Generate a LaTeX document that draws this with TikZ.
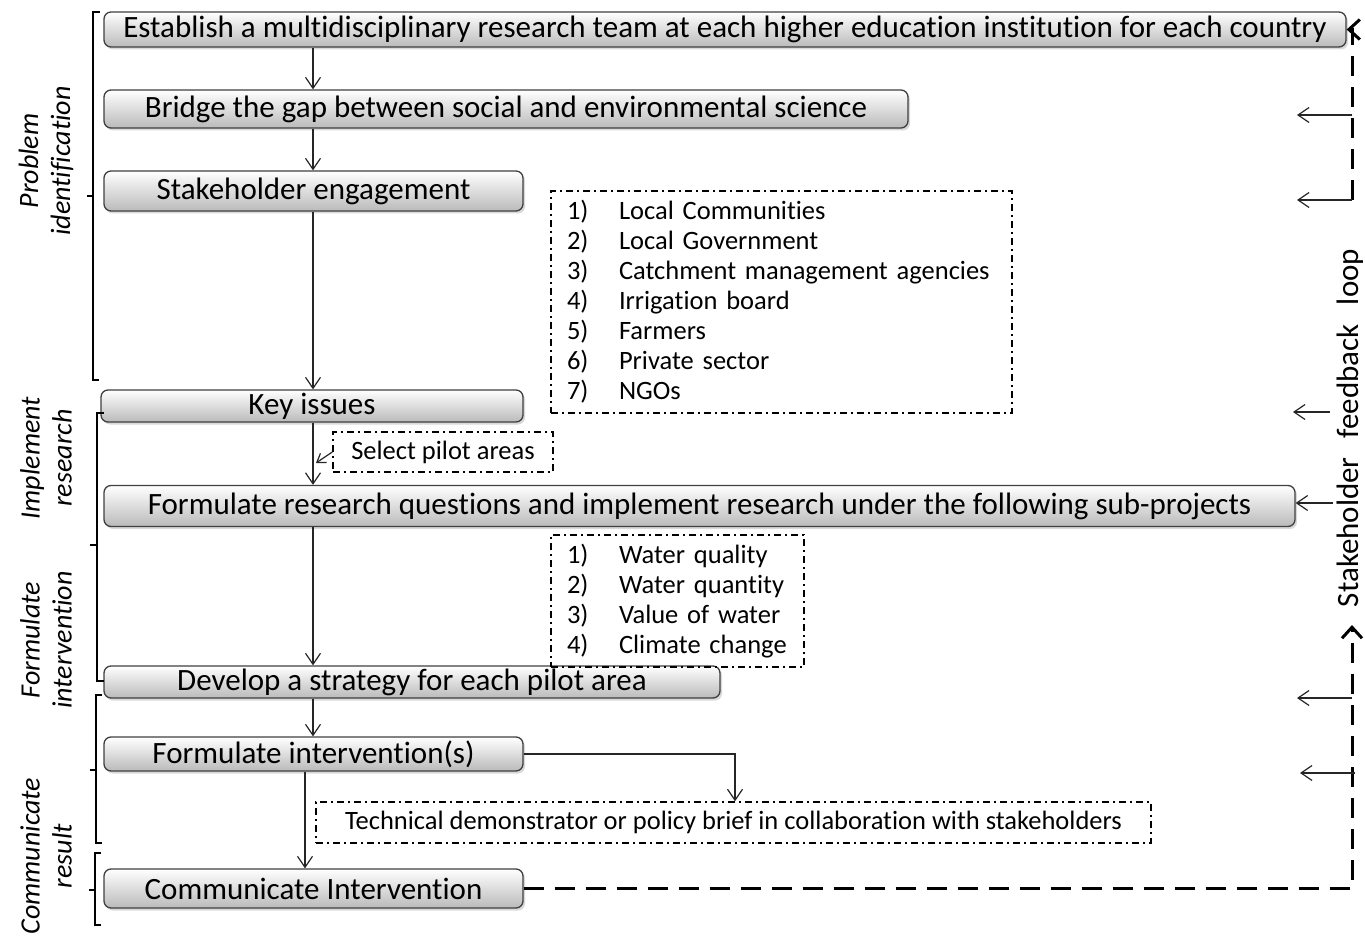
\documentclass[tikz,border=0pt]{standalone}
\usepackage{fontspec}
\setmainfont{Carlito}[Ligatures=NoCommon]
\usetikzlibrary{arrows.meta,shadows,calc}

\newcommand\numlab[2]{\mbox{\makebox[52pt][l]{#1}#2}}

\tikzset{
  stepbox/.style={draw=black!75, line width=1.3pt, rounded corners=7pt,
    top color=white, bottom color=black!27,
    drop shadow={shadow xshift=2pt, shadow yshift=-2.5pt, opacity=0.3},
    font=\fontsize{31}{36}\selectfont, inner sep=0pt},
  notebox/.style={draw=black, line width=1.4pt,
    dash pattern=on 7pt off 4pt on 2pt off 4pt, inner sep=0pt},
  listbox/.style={notebox, align=left, inner xsep=16pt,
    font=\fontsize{26.5}{30}\selectfont},
  flow/.style={draw=black!85, line width=1.2pt,
    -{Straight Barb[length=11pt,width=15pt,line width=1.2pt]}},
  smallflow/.style={draw=black!85, line width=1.2pt,
    -{Straight Barb[length=8pt,width=11pt,line width=1.2pt]}},
  loopline/.style={draw=black, line width=3pt, dash pattern=on 20pt off 11pt},
  looptip/.style={-{Straight Barb[length=11pt,width=20pt,line width=3pt]}},
  bracket/.style={draw=black, line width=1.3pt},
  sidelabel/.style={rotate=90, align=center,
    font=\itshape\fontsize{28}{32}\selectfont},
}

\begin{document}
\begin{tikzpicture}[x=1pt, y=-1pt]
\useasboundingbox (0,0) rectangle (1365,936);

% main process boxes
\node[stepbox, minimum width=1242pt, minimum height=35pt] (est) at (725,29.5)
  {Establish a multidisciplinary research team at each higher education institution for each country};
\node[stepbox, minimum width=804pt, minimum height=38pt] (bridge) at (506,109)
  {Bridge the gap between social and environmental science};
\node[stepbox, minimum width=419pt, minimum height=40pt] (stake) at (313.5,191)
  {Stakeholder engagement};
\node[stepbox, minimum width=422pt, minimum height=32pt] (key) at (312,406)
  {Key issues};
\node[stepbox, minimum width=1191pt, minimum height=41pt] (fq) at (699.5,506)
  {Formulate research questions and implement research under the following sub-projects};
\node[stepbox, minimum width=616pt, minimum height=32pt] (dev) at (412,682)
  {Develop a strategy for each pilot area};
\node[stepbox, minimum width=419pt, minimum height=34pt] (fi) at (313.5,754)
  {Formulate intervention(s)};
\node[stepbox, minimum width=419pt, minimum height=39pt] (ci) at (313.5,888.5)
  {Communicate Intervention};

% annotation boxes
\node[listbox, text width=429pt, minimum height=222pt] (stakelist) at (781.5,302)
  {\numlab{1)}{Local Communities}\\
   \numlab{2)}{Local Government}\\
   \numlab{3)}{Catchment management agencies}\\
   \numlab{4)}{Irrigation board}\\
   \numlab{5)}{Farmers}\\
   \numlab{6)}{Private sector}\\
   \numlab{7)}{NGOs}};
\node[listbox, text width=221pt, minimum height=132pt] (sublist) at (677.5,601)
  {\numlab{1)}{Water quality}\\
   \numlab{2)}{Water quantity}\\
   \numlab{3)}{Value of water}\\
   \numlab{4)}{Climate change}};
\node[notebox, minimum width=220pt, minimum height=40pt,
  font=\fontsize{26.5}{30}\selectfont] (sel) at (443,452) {Select pilot areas};
\node[notebox, minimum width=835pt, minimum height=41pt,
  font=\fontsize{26.5}{30}\selectfont] (tech) at (733.5,822.5)
  {Technical demonstrator or policy brief in collaboration with stakeholders};

% phase labels
\node[sidelabel] (lprob) at (46,161) {Problem\\identification};
\node[sidelabel] (limpl) at (46,458) {Implement\\research};
\node[sidelabel] (lform) at (46,640) {Formulate\\intervention};
\node[sidelabel] (lcomm) at (46,856) {Communicate\\result};

% phase brackets
\draw[bracket] (100,12) -- (93,12) -- (93,380) -- (99,380);
\draw[bracket] (93,196) -- (87,196);
\draw[bracket] (104,413) -- (97,413) -- (97,681) -- (104,681);
\draw[bracket] (97,545) -- (90,545);
\draw[bracket] (102,695) -- (96,695) -- (96,843) -- (102,843);
\draw[bracket] (96,770) -- (90,770);
\draw[bracket] (101,853) -- (95,853) -- (95,925) -- (101,925);
\draw[bracket] (95,890) -- (89,890);

% main flow
\coordinate (spine) at (313,0);
\coordinate (spineb) at (305,0);
\draw[flow] (est.south -| spine) -- (bridge.north -| spine);
\draw[flow] (bridge.south -| spine) -- (stake.north -| spine);
\draw[flow] (stake.south -| spine) -- (key.north -| spine);
\draw[flow] (key.south -| spine) -- (fq.north -| spine);
\draw[flow] (fq.south -| spine) -- (dev.north -| spine);
\draw[flow] (dev.south -| spine) -- (fi.north -| spine);
\draw[flow] (fi.south -| spineb) -- (ci.north -| spineb);
\coordinate (techin) at (735,0);
\draw[flow] (fi.east) -| (tech.north -| techin);
\coordinate (selhit) at (316,463);
\draw[smallflow] (sel.west) -- (selhit);

% stakeholder feedback loop
\coordinate (loopx) at (1352,0);
\coordinate (loopend) at (1352,625);
\coordinate (loopupper) at (1352,200);
\draw[loopline, looptip] (ci.east) -- (ci.east -| loopx) -- (loopend);
\draw[loopline, looptip] (loopupper) |- (est.east);
\node[rotate=90, inner sep=0pt, font=\fontsize{31}{36}\selectfont] (fbl) at (1350,428)
  {Stakeholder\hspace{12pt} feedback\hspace{12pt} loop};

% feedback arrows
\coordinate (fa1) at (1352,115);  \coordinate (fb1) at (1297,115);
\coordinate (fa2) at (1352,200);  \coordinate (fb2) at (1297,200);
\coordinate (fa3) at (1330,412);  \coordinate (fb3) at (1293,412);
\coordinate (fa4) at (1333,503);
\coordinate (fa5) at (1352,698);  \coordinate (fb5) at (1297,698);
\coordinate (fa6) at (1355,773);  \coordinate (fb6) at (1300,773);
\draw[flow] (fa1) -- (fb1);
\draw[flow] (fa2) -- (fb2);
\draw[flow] (fa3) -- (fb3);
\draw[flow] (fa4) -- (fq.east |- fa4);
\draw[flow] (fa5) -- (fb5);
\draw[flow] (fa6) -- (fb6);
\end{tikzpicture}
\end{document}
